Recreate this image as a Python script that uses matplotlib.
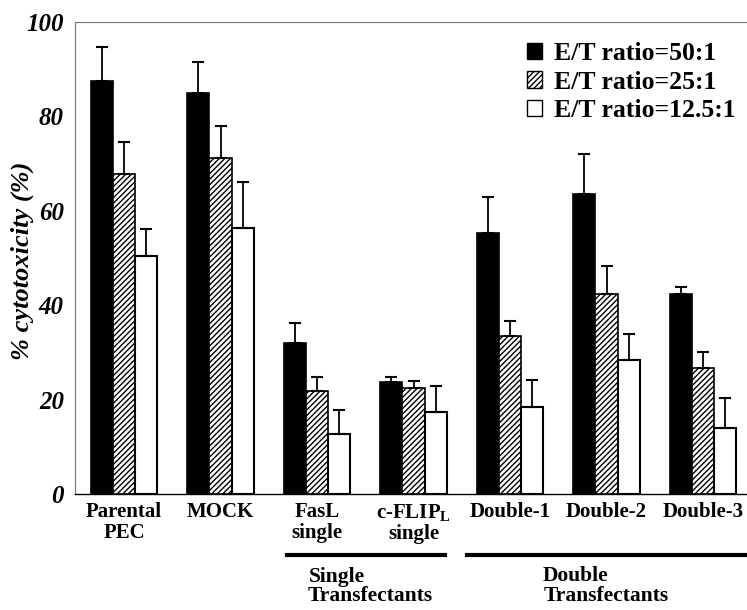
import matplotlib
matplotlib.use("Agg")
import matplotlib.pyplot as plt
from matplotlib.patches import Patch
import matplotlib.transforms as mtransforms
import numpy as np

plt.rcParams['font.family'] = ['Liberation Serif', 'DejaVu Serif']
plt.rcParams['mathtext.fontset'] = 'custom'
plt.rcParams['mathtext.rm'] = 'Liberation Serif:bold'
plt.rcParams['mathtext.bf'] = 'Liberation Serif:bold'
plt.rcParams['hatch.linewidth'] = 1.0

categories = ["Parental\nPEC", "MOCK", "FasL\nsingle", "c-FLIP$_{\\mathbf{L}}$\nsingle",
              "Double-1", "Double-2", "Double-3"]
series_labels = ["E/T ratio=50:1", "E/T ratio=25:1", "E/T ratio=12.5:1"]
ratio_50 = [87.5, 85.0, 31.9, 23.7, 55.4, 63.6, 42.3]
ratio_50_err = [7.1, 6.5, 4.3, 1.0, 7.5, 8.4, 1.6]
ratio_25 = [67.8, 71.2, 21.9, 22.4, 33.5, 42.3, 26.8]
ratio_25_err = [6.8, 6.8, 2.8, 1.6, 3.2, 6.1, 3.3]
ratio_125 = [50.5, 56.3, 12.7, 17.4, 18.5, 28.4, 14.0]
ratio_125_err = [5.7, 9.7, 5.2, 5.5, 5.7, 5.6, 6.3]
yticks = [0, 20, 40, 60, 80, 100]

fig = plt.figure(figsize=(7.47, 6.10), dpi=100)
ax = fig.add_axes([75/747, 1-494/610, 1-75/747, 472/610])

x = np.arange(len(categories))
w = 0.228
ekw = dict(ecolor='black', elinewidth=1.3, capsize=4, capthick=1.5)
ax.bar(x - w, ratio_50, w, color='black', edgecolor='black', linewidth=1.2,
       yerr=[np.zeros(7), ratio_50_err], error_kw=ekw, zorder=2)
ax.bar(x, ratio_25, w, color='white', edgecolor='black', hatch='//////', linewidth=1.2,
       yerr=[np.zeros(7), ratio_25_err], error_kw=ekw, zorder=2)
ax.bar(x + w, ratio_125, w, color='white', edgecolor='black', linewidth=1.5,
       yerr=[np.zeros(7), ratio_125_err], error_kw=ekw, zorder=2)

ax.set_xlim((75-124)/96.5, (747-124)/96.5)
ax.set_ylim(0, 100)
ax.set_yticks(yticks)
ax.set_yticklabels([str(t) for t in yticks], fontsize=18, fontweight='bold', style='italic')
ax.tick_params(axis='y', length=0, pad=8)
ax.set_xticks([])
for s in ['left', 'top']:
    ax.spines[s].set_color('#777777')
    ax.spines[s].set_linewidth(0.8)
    ax.spines[s].set_linestyle((0, (1, 0.5)))
ax.spines['right'].set_visible(False)
ax.spines['bottom'].set_linewidth(1.0)

fig.text(22/747, 1-261/610, "% cytotoxicity (%)", rotation=90, ha='center', va='center',
         fontsize=19, fontweight='bold', style='italic')

trans = mtransforms.blended_transform_factory(ax.transData, ax.transAxes)
for xi, lab in zip(x, categories):
    ax.text(xi, -0.017, lab, transform=trans, ha='center', va='top', fontsize=15,
            fontweight='bold', linespacing=1.05, clip_on=False)

tf = mtransforms.blended_transform_factory(ax.transData, fig.transFigure)
ly = 1 - 555/610
ax.plot([(287-124)/96.5, (445-124)/96.5], [ly, ly], color='black', lw=3, transform=tf, clip_on=False)
ax.plot([(467-124)/96.5, 7.0], [ly, ly], color='black', lw=3, transform=tf, clip_on=False)
fig.text(337/747, 1-577/610, "Single", ha='center', va='center', fontsize=15.5, fontweight='bold')
fig.text(370/747, 1-596/610, "Transfectants", ha='center', va='center', fontsize=15.5, fontweight='bold')
fig.text(575/747, 1-576/610, "Double", ha='center', va='center', fontsize=15.5, fontweight='bold')
fig.text(606/747, 1-596/610, "Transfectants", ha='center', va='center', fontsize=15.5, fontweight='bold')

handles = [Patch(facecolor='black', edgecolor='black'),
           Patch(facecolor='white', edgecolor='black', hatch='//////'),
           Patch(facecolor='white', edgecolor='black')]
leg = fig.legend(handles, series_labels, loc='upper left', bbox_to_anchor=(527/747, 1-42/610),
                 frameon=False, prop={'family': 'Liberation Serif', 'weight': 'bold', 'size': 18.5},
                 handlelength=0.6, handleheight=0.6, handletextpad=0.45, labelspacing=0.22,
                 borderpad=0, borderaxespad=0)

fig.savefig("out.png", dpi=100)
